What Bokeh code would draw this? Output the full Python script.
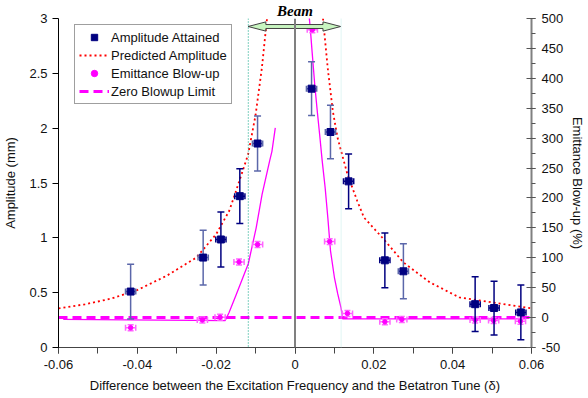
import numpy as np
from bokeh.plotting import figure
from bokeh.models import (Range1d, LinearAxis, SingleIntervalTicker, NumeralTickFormatter,
                          Span, Legend)
from bokeh.embed import file_html
from bokeh.resources import INLINE

nan = float("nan")

# ---- data ----
amp_x = [-0.0417, -0.0233, -0.0188, -0.0140, -0.0095, 0.0042, 0.0090, 0.0136, 0.0228, 0.0275, 0.0457, 0.0505, 0.0573]
amp_y = [0.51, 0.82, 0.985, 1.38, 1.86, 2.36, 1.965, 1.515, 0.795, 0.695, 0.395, 0.36, 0.32]
amp_err = [0.25, 0.25, 0.25, 0.25, 0.25, 0.245, 0.245, 0.25, 0.25, 0.25, 0.25, 0.245, 0.25]
amp_xerr = [0.0013] * 13
amp_bar_tone = ["light", "light", "dark", "dark", "light", "light", "light", "dark", "dark", "light", "dark", "dark", "dark"]

emit_x = [-0.0417, -0.0235, -0.0190, -0.0142, -0.0095, 0.0044, 0.0088, 0.0133, 0.0228, 0.0271, 0.0457, 0.0504, 0.0572]
emit_y = [-17, -4, 0.5, 93, 122, 481, 127, 7, -7, -3, -4, -5, -6]
emit_err = [5] * 13
emit_xerr = [0.0013] * 13

pred_x = [-0.06, -0.0533, -0.0467, -0.04, -0.0325, -0.025, -0.02, -0.0167, -0.0154, -0.0119, -0.01, -0.0084, -0.0071,
          nan, 0.0071, 0.0083, 0.0096, 0.0108, 0.0133, 0.0158, 0.0175, 0.0225, 0.0275, 0.0342, 0.0417, 0.05, 0.06]
pred_y = [0.357, 0.394, 0.445, 0.524, 0.655, 0.821, 1.033, 1.245, 1.38, 1.76, 2.12, 2.55, 3.0,
          nan, 3.0, 2.548, 2.155, 1.912, 1.579, 1.336, 1.185, 0.988, 0.776, 0.594, 0.457, 0.412, 0.357]

curve_x = [-0.0588, -0.0177, -0.0167, -0.0150, -0.01185, -0.00985, -0.00835, -0.00643, -0.00585, -0.0050,
           nan, 0.00358, 0.0040, 0.00433, 0.0050, 0.00565, 0.00625, 0.0069, 0.00765, 0.00833, 0.0090, 0.0100,
           0.01083, 0.01165, 0.0121, 0.0583]
curve_y = [-3, -5, 9, 37, 90, 150, 206, 262, 278, 317,
           nan, 505, 473, 445, 390, 345, 306, 262, 217, 167, 112, 67,
           40, 17, -2, -2]

zero_x = [-0.06, 0.06]
zero_y = [0, 0]

beam_x = [-0.0119, 0.0116]
beam_y = 2.927
resonance_lines = [-0.01185, 0.0117]

FONT = "Liberation Sans"

p = figure(width=588, height=398, output_backend="svg", toolbar_location=None,
           x_range=Range1d(-0.06, 0.06), y_range=Range1d(0, 3),
           min_border_left=57, min_border_right=52, min_border_top=0, min_border_bottom=51)
p.outline_line_color = None
p.xgrid.visible = False
p.ygrid.visible = False
p.extra_y_ranges = {"emit": Range1d(-50, 500)}

# "Beam" caption above the arrow (as title so it is not clipped by the frame)
p.title.text = "Beam"
p.title.align = "center"
p.title.text_font = "Liberation Serif"
p.title.text_font_style = "bold italic"
p.title.text_font_size = "15px"
p.title.text_color = "#000000"
p.title.standoff = 0
p.title.offset = -2

# axes
xa = p.xaxis[0]
xa.ticker = SingleIntervalTicker(interval=0.02, num_minor_ticks=2)
xa.formatter = NumeralTickFormatter(format="0.[00]")
xa.axis_label = "Difference between the Excitation Frequency and the Betatron Tune (\u03b4)"
ya = p.yaxis[0]
ya.ticker = SingleIntervalTicker(interval=0.5, num_minor_ticks=0)
ya.formatter = NumeralTickFormatter(format="0.[0]")
ya.axis_label = "Amplitude (mm)"
ra = LinearAxis(y_range_name="emit", axis_label="Emittance Blow-up (%)",
                ticker=SingleIntervalTicker(interval=50, num_minor_ticks=2),
                formatter=NumeralTickFormatter(format="0"))
p.add_layout(ra, "right")

for ax in (xa, ya, ra):
    ax.major_label_text_font = FONT
    ax.major_label_text_font_size = "13px"
    ax.major_label_text_color = "#111111"
    ax.axis_label_text_font = FONT
    ax.axis_label_text_font_size = "13px"
    ax.axis_label_text_font_style = "normal"
    ax.axis_label_text_color = "#111111"
    ax.major_tick_in = 0
    ax.major_tick_out = 6
    ax.minor_tick_in = 0
    ax.minor_tick_out = 6
xa.axis_line_color = "#444444"
xa.major_tick_line_color = "#444444"
xa.minor_tick_line_color = "#444444"
xa.major_label_standoff = 6
xa.axis_label_standoff = 6
ya.axis_line_color = "#000000"
ya.axis_label_standoff = 8
ra.axis_line_color = "#808080"
ra.axis_line_width = 2
ra.major_tick_in = 5
ra.major_tick_out = 4
ra.minor_tick_out = 4
ra.major_tick_line_color = "#555555"
ra.minor_tick_line_color = "#555555"
ra.major_label_standoff = 6
ra.axis_label_standoff = 4

# reference lines
p.add_layout(Span(location=0, dimension="height", line_color="#808080", line_width=2))
p.add_layout(Span(location=resonance_lines[0], dimension="height", line_color="#00a080",
                  line_width=1, line_dash="1 2"))
p.add_layout(Span(location=resonance_lines[1], dimension="height", line_color="#c0ece8",
                  line_width=1, line_dash="1 1"))

# emittance curve and zero limit
p.line(curve_x, curve_y, y_range_name="emit", line_color="#ff00ff", line_width=1.3)
r_zero = p.line(zero_x, zero_y, y_range_name="emit", line_color="#ff00ff", line_width=3, line_dash="9 5")

# predicted amplitude
r_pred = p.line(pred_x, pred_y, line_color="#ff0000", line_width=1.8, line_dash="2 3")

# emittance points with error bars
ex = np.array(emit_x); ey = np.array(emit_y); ee = np.array(emit_err); exe = np.array(emit_xerr)
ecol = "#ff66ff"
p.segment(ex, ey - ee, ex, ey + ee, y_range_name="emit", line_color=ecol, line_width=1.5)
p.segment(ex - exe, ey, ex + exe, ey, y_range_name="emit", line_color=ecol, line_width=1.5)
p.scatter(np.concatenate([ex - exe, ex + exe]), np.concatenate([ey, ey]), y_range_name="emit",
          marker="dash", angle=np.pi / 2, size=6, line_color=ecol, line_width=1.5)
p.scatter(np.concatenate([ex, ex]), np.concatenate([ey - ee, ey + ee]), y_range_name="emit",
          marker="dash", size=6, line_color=ecol, line_width=1.5)
r_emit = p.scatter(ex, ey, y_range_name="emit", marker="circle", size=4.5, fill_color="#ff00ff",
                   line_color="#ff00ff")

# amplitude points with error bars
ax_ = np.array(amp_x); ay = np.array(amp_y); ae = np.array(amp_err); axe = np.array(amp_xerr)
bcol = np.array(["#000080" if t == "dark" else "#5b67aa" for t in amp_bar_tone])
p.segment(ax_, ay - ae, ax_, ay + ae, line_color=bcol, line_width=1.5)
p.scatter(np.concatenate([ax_, ax_]), np.concatenate([ay - ae, ay + ae]), marker="dash", size=7,
          line_color=np.concatenate([bcol, bcol]), line_width=1.5)
p.segment(ax_ - axe, ay, ax_ + axe, ay, line_color=bcol, line_width=1.5)
p.scatter(np.concatenate([ax_ - axe, ax_ + axe]), np.concatenate([ay, ay]), marker="dash",
          angle=np.pi / 2, size=6, line_color=np.concatenate([bcol, bcol]), line_width=1.5)
r_amp = p.scatter(ax_, ay, marker="square", size=7, fill_color="#000080", line_color="#000080")

# beam arrow
bx0, bx1 = beam_x
hl = 0.0045
hh = 0.042
sh = 0.018
arrow_x = [bx0, bx0 + hl, bx0 + hl, bx1 - hl, bx1 - hl, bx1, bx1 - hl, bx1 - hl, bx0 + hl, bx0 + hl]
arrow_y = [beam_y, beam_y + hh, beam_y + sh, beam_y + sh, beam_y + hh, beam_y, beam_y - hh, beam_y - sh,
           beam_y - sh, beam_y - hh]
p.patch(arrow_x, arrow_y, fill_color="#c8f5c0", line_color="#404040", line_width=1)

legend = Legend(items=[("Amplitude Attained", [r_amp]), ("Predicted Amplitude", [r_pred]),
                       ("Emittance Blow-up", [r_emit]), ("Zero Blowup Limit", [r_zero])],
                location=(16, 243))
legend.label_text_font = FONT
legend.label_text_font_size = "13px"
legend.label_text_color = "#111111"
legend.glyph_width = 30
legend.glyph_height = 16
legend.label_height = 16
legend.label_standoff = 2
legend.spacing = 2
legend.padding = 4
legend.margin = 0
legend.border_line_color = "#404040"
legend.border_line_width = 1
legend.background_fill_color = "white"
legend.background_fill_alpha = 1
p.add_layout(legend, "center")

open("out.html", "w").write(file_html(p, INLINE))
